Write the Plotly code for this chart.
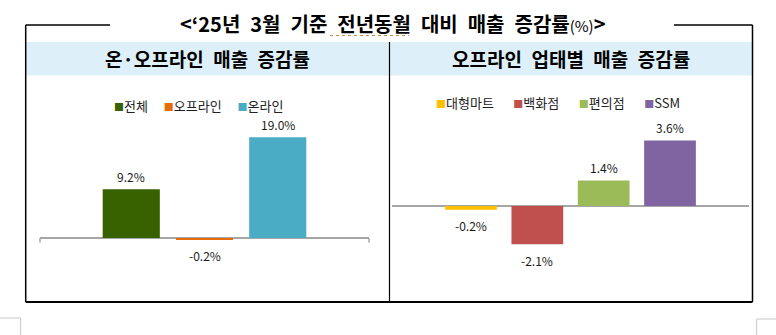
import plotly.graph_objects as go

W, H = 776, 335

# ---- data -------------------------------------------------------------
title_main = "<‘25년 3월 기준 전년동월 대비 매출 증감률"
title_unit = "(%)"
left_header = "온·오프라인 매출 증감률"
right_header = "오프라인 업태별 매출 증감률"

left_names = ["전체", "오프라인", "온라인"]
left_values = [9.2, -0.2, 19.0]
left_colors = ["#386200", "#E46C0A", "#4BACC6"]

right_names = ["대형마트", "백화점", "편의점", "SSM"]
right_values = [-0.2, -2.1, 1.4, 3.6]
right_colors = ["#FFC000", "#C0504D", "#9BBB59", "#8064A2"]

KR = "Noto Sans CJK KR"
EN_SPACE = "\u2002"


def fx(px):
    return px / W


def fy(py):
    return 1 - py / H


def wide(s):
    # headline text uses wider word spacing
    return s.replace(" ", EN_SPACE)


fig = go.Figure()

panels = [
    (left_names, left_values, left_colors, "x", "y"),
    (right_names, right_values, right_colors, "x2", "y2"),
]

annotations = []
for names, values, colors, xa, ya in panels:
    for n, v, c in zip(names, values, colors):
        fig.add_bar(
            x=[n], y=[v], name=n, width=0.78,
            marker=dict(color=c, line_width=0),
            xaxis=xa, yaxis=ya, showlegend=False,
            hovertemplate="%{x}: %{y:.1f}%<extra></extra>",
        )
        annotations.append(dict(
            x=n, y=v, xref=xa, yref=ya, text=f"{v:.1f}%",
            showarrow=False, yanchor="middle",
            yshift=13 if v >= 0 else -16,
            font=dict(family=KR, size=12, color="#1a1a1a"),
        ))


def legend_text(names, colors, gap):
    parts = [
        f'<span style="color:{c};font-size:10px">■</span>{n}'
        for n, c in zip(names, colors)
    ]
    return gap.join(parts)


annotations += [
    dict(x=fx(199), y=fy(106), xref="paper", yref="paper",
         text=legend_text(left_names, left_colors, "\u2003\u00a0"), showarrow=False,
         xanchor="center", yanchor="middle",
         font=dict(family=KR, size=13, color="#222")),
    dict(x=fx(558), y=fy(102), xref="paper", yref="paper",
         text=legend_text(right_names, right_colors, "\u2003\u2002"), showarrow=False,
         xanchor="center", yanchor="middle",
         font=dict(family=KR, size=13, color="#222")),
    dict(x=fx(393), y=fy(24), xref="paper", yref="paper",
         text=f"<b>{wide(title_main)}</b><span style=\"font-size:15px\">{title_unit}</span><b>></b>",
         showarrow=False, xanchor="center", yanchor="middle",
         font=dict(family=KR, size=20, color="#000")),
    dict(x=fx(207.6), y=fy(58.5), xref="paper", yref="paper",
         text=wide(left_header), showarrow=False, xanchor="center", yanchor="middle",
         font=dict(family=KR, size=19, color="#000", weight=600)),
    dict(x=fx(571), y=fy(58.5), xref="paper", yref="paper",
         text=wide(right_header), showarrow=False, xanchor="center", yanchor="middle",
         font=dict(family=KR, size=19, color="#000", weight=600)),
]

line = dict(color="#000", width=1.5)
gray = dict(color="#C8C8C8", width=1)
shapes = [
    # header band
    dict(type="rect", xref="paper", yref="paper", x0=fx(25.7), x1=fx(752.5),
         y0=fy(42), y1=fy(75.5), fillcolor="#DDEFF9", line_width=0, layer="below"),
    # frame
    dict(type="line", xref="paper", yref="paper", x0=fx(25.7), x1=fx(25.7),
         y0=fy(25), y1=fy(302), line=line),
    dict(type="line", xref="paper", yref="paper", x0=fx(752.5), x1=fx(752.5),
         y0=fy(25), y1=fy(302), line=line),
    dict(type="line", xref="paper", yref="paper", x0=fx(25.7), x1=fx(110),
         y0=fy(25), y1=fy(25), line=line),
    dict(type="line", xref="paper", yref="paper", x0=fx(674), x1=fx(752.5),
         y0=fy(25), y1=fy(25), line=line),
    dict(type="line", xref="paper", yref="paper", x0=fx(25.7), x1=fx(752.5),
         y0=fy(302), y1=fy(302), line=dict(color="#000", width=2)),
    dict(type="line", xref="paper", yref="paper", x0=fx(389.5), x1=fx(389.5),
         y0=fy(42), y1=fy(302), line=dict(color="#000", width=1.2)),
    # dotted proofing underline beneath 전년동월
    dict(type="line", xref="paper", yref="paper", x0=fx(330), x1=fx(409),
         y0=fy(35.5), y1=fy(35.5), line=dict(color="#C8894A", width=1, dash="dot")),
    # page corner marks
    dict(type="path", xref="paper", yref="paper",
         path=f"M0,{fy(318)} L{fx(20.7)},{fy(318)} L{fx(20.7)},{fy(335)}", line=gray),
    dict(type="path", xref="paper", yref="paper",
         path=f"M{fx(776)},{fy(319)} L{fx(756.7)},{fy(319)} L{fx(756.7)},{fy(335)}", line=gray),
    # end ticks of the left category axis
    dict(type="line", xref="x domain", yref="paper", x0=0, x1=0,
         y0=fy(238), y1=fy(242.5), line=dict(color="#A6A6A6", width=1.5)),
    dict(type="line", xref="x domain", yref="paper", x0=1, x1=1,
         y0=fy(238), y1=fy(242.5), line=dict(color="#A6A6A6", width=1.5)),
]

hidden_x = dict(showticklabels=False, showgrid=False, zeroline=False,
                showline=False, ticks="", type="category", fixedrange=True)
zero_y = dict(showticklabels=False, showgrid=False, zeroline=True,
              zerolinecolor="#A6A6A6", zerolinewidth=1.5, showline=False,
              ticks="", fixedrange=True)

fig.update_layout(
    width=W, height=H,
    margin=dict(l=0, r=0, t=0, b=0),
    paper_bgcolor="white", plot_bgcolor="rgba(0,0,0,0)",
    barmode="overlay",
    xaxis=dict(domain=[fx(40), fx(369)], range=[-1.246, 3.246],
               categoryorder="array", categoryarray=left_names, **hidden_x),
    yaxis=dict(domain=[fy(285), fy(115)], range=[-8.87, 23.21], **zero_y),
    xaxis2=dict(domain=[fx(392), fx(749)], range=[-1.191, 4.191],
                categoryorder="array", categoryarray=right_names,
                anchor="y2", **hidden_x),
    yaxis2=dict(domain=[fy(285), fy(115)], range=[-4.34, 5.0],
                anchor="x2", **zero_y),
    annotations=annotations,
    shapes=shapes,
    showlegend=False,
)

fig.write_html("out.html")
